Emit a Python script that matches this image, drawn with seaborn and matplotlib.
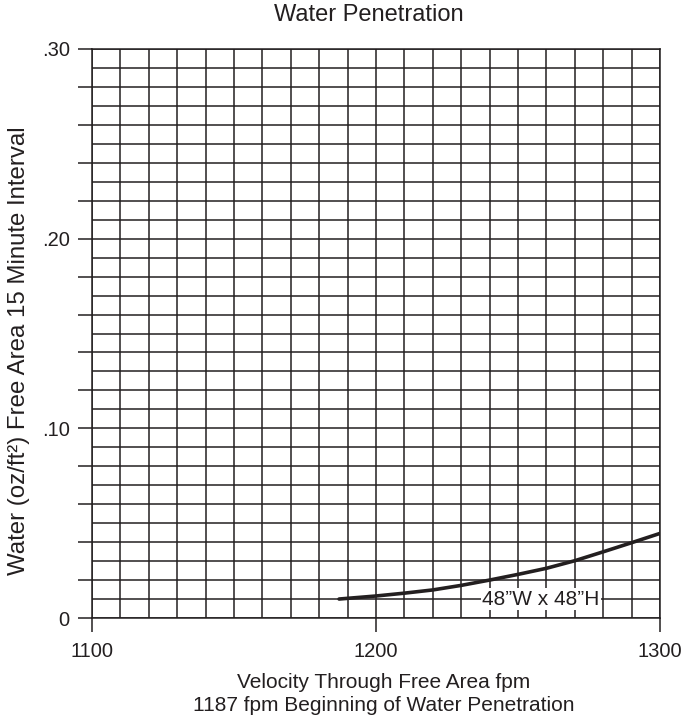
import matplotlib
matplotlib.use("Agg")
import matplotlib.pyplot as plt
import pandas as pd
import seaborn as sns
from matplotlib.ticker import MultipleLocator, FixedLocator, FuncFormatter

# Datos
velocity = [1187, 1200, 1210, 1220, 1230, 1240, 1250, 1260, 1270, 1280, 1290, 1300]
water = [0.0100, 0.0116, 0.0131, 0.0148, 0.0172, 0.0200, 0.0230, 0.0262, 0.0302,
         0.0349, 0.0397, 0.0446]
y_labels = {0.30: ".30", 0.20: ".20", 0.10: ".10", 0.0: "0"}
x_ticks = [1100, 1200, 1300]
series_label = "48\u201dW x 48\u201dH"

df = pd.DataFrame({"velocity": velocity, "water": water})

sns.set_style("white")
plt.rcParams["font.family"] = ["Liberation Sans", "DejaVu Sans"]

ink = "#231f20"
W, H = 685, 722
fig = plt.figure(figsize=(W / 100, H / 100), dpi=100)
ax = fig.add_axes([92 / W, 1 - 618 / H, 568 / W, 569 / H])

sns.lineplot(data=df, x="velocity", y="water", ax=ax, color=ink, linewidth=2.6, zorder=5)

ax.set_xlim(1100, 1300)
ax.set_ylim(0, 0.30)

ax.xaxis.set_major_locator(FixedLocator(x_ticks))
ax.xaxis.set_minor_locator(MultipleLocator(10))
ax.yaxis.set_major_locator(MultipleLocator(0.02))
ax.yaxis.set_minor_locator(MultipleLocator(0.01))
ax.yaxis.set_major_formatter(FuncFormatter(lambda v, p: y_labels.get(round(v, 2), "")))

ax.grid(True, which="both", color=ink, linewidth=1.1)
ax.set_axisbelow(True)
ax.tick_params(axis="both", which="major", length=10, width=1.1, color=ink,
               labelsize=14.5, labelcolor=ink, left=True, bottom=True)
ax.tick_params(axis="y", which="major", pad=6)
ax.tick_params(axis="x", which="major", pad=7)
ax.tick_params(axis="both", which="minor", length=0)
for s in ax.spines.values():
    s.set_color(ink)
    s.set_linewidth(1.1)

ax.text(1258, 0.0098, series_label, ha="center", va="center", fontsize=15, color=ink,
        zorder=6, bbox=dict(facecolor="white", edgecolor="none", pad=1.0))

# Titulo y etiquetas de ejes
fig.text(369 / W, 1 - 15 / H, "Water Penetration", ha="center", va="center",
         fontsize=17, color=ink)
ax.set_xlabel("Velocity Through Free Area fpm\n1187 fpm Beginning of Water Penetration",
              fontsize=15, color=ink, linespacing=1.3)
ax.xaxis.set_label_coords((384 - 92) / 568, (618 - 694) / 569)
ax.xaxis.label.set_va("center")
ax.set_ylabel("Water (oz/ft\u00b2) Free Area 15 Minute Interval", fontsize=17.3, color=ink)
ax.yaxis.set_label_coords((19 - 92) / 568, (618 - 351) / 569)
ax.yaxis.label.set_va("center")

fig.savefig("out.png", dpi=100)
